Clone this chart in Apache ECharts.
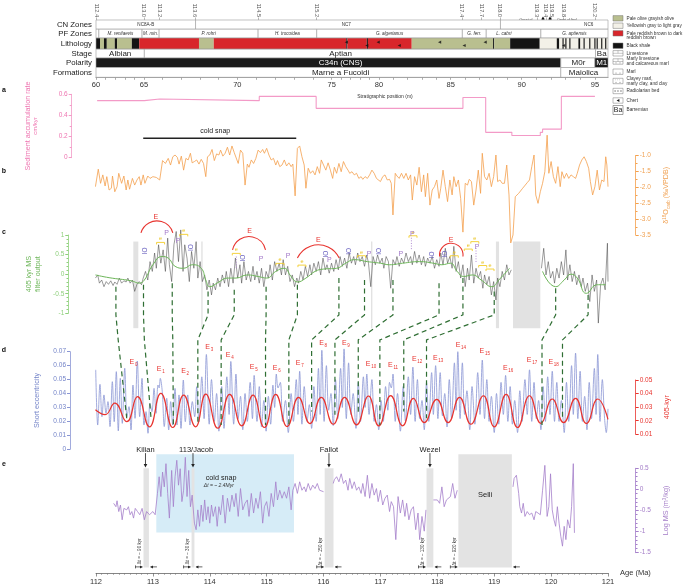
<!DOCTYPE html>
<html><head><meta charset="utf-8">
<script src="https://cdn.jsdelivr.net/npm/echarts@6/dist/echarts.min.js"></script>
<style>html,body{margin:0;padding:0;background:#fff}#c{width:685px;height:586px}</style>
</head><body><div id="c"></div>
<script>
// ---------------- DATA ----------------
// stratigraphic ticks (m) and their tie ages on the shared display axis (Ma)
const stratM = [60,65,70,75,80,85,90,95];
const stratTieAge = [112.0,112.844,114.484,116.143,116.975,118.235,119.483,120.771];
// ages written above the header, at zone boundaries
const boundaryLabels = ['112.4','113.0','113.2','113.6','114.5','115.2','117.4','117.7','118.0','119.3','119.4','119.5','119.8','120.2'];
const boundaryPos = [112.01,112.84,113.12,113.74,114.85,115.87,118.43,118.77,119.10,119.75,119.91,120.01,120.21,120.77];
// header rows: [label, from, to, labelPos]
const cnZones = [['NC8A-B',112.0,113.75],['NC7',113.75,119.11,116.4],['NC6',119.11,121.0,120.66]];
const pfZones = [['',112.0,112.05],['M. renilaevis',112.05,112.81],['M. min.',112.81,113.11],['P. rohri',113.11,114.85],['H. trocoidea',114.85,115.88],['G. algerianus',115.88,118.44],['G. ferr.',118.44,118.86],['L. cabri',118.86,119.82,119.17],['G. aptiensis',119.82,121.0]];
const stages = [['Albian',112.0,112.85],['Aptian',112.85,120.78,116.3],['Ba',120.78,121.0]];
const polarity = [['C34n (CNS)',112.0,120.17,116.3,'n'],['M0r',120.17,120.77,120.48,'r'],['M1',120.77,121.0,120.89,'n']];
const formations = [['Marne a Fucoidi',112.0,120.17,116.3],['Maiolica',120.17,121.0,120.57]];
// lithology segments [from, to, type]
const lithology = [[112.0,112.07,'k'],[112.07,112.14,'o'],[112.14,112.19,'k'],[112.19,112.33,'o'],[112.33,112.37,'k'],[112.37,112.63,'o'],[112.63,112.76,'k'],[112.76,113.81,'r'],[113.81,114.07,'o'],[114.07,116.4,'r'],[116.4,116.42,'k'],[116.42,116.76,'r'],[116.76,116.78,'k'],[116.78,117.55,'r'],[117.55,118.98,'o'],[118.98,119.0,'k'],[119.0,119.28,'o'],[119.28,119.8,'k'],[119.8,121.0,'w'],
 [120.1,120.14,'k'],[120.2,120.22,'k'],[120.25,120.27,'k'],[120.32,120.34,'k'],[120.48,120.51,'k'],[120.57,120.59,'k'],[120.67,120.69,'k'],[120.76,120.78,'k'],[120.8,120.82,'k'],[120.88,120.9,'k'],[120.95,120.97,'k']];
const chertAges = [116.4,116.76,116.96,117.33,118.04,118.47,118.84,120.22];
// a: sediment accumulation rate (cm/kyr), change points
const sedRate = [[112.02,0.54],[112.85,0.556],[113.12,0.54],[114.87,0.58],[115.87,0.467],[118.45,0.57],[118.85,0.24],[119.31,0.21],[119.81,0.24],[119.85,0.27],[120.18,0.58],[120.77,0.58]];
const coldSnapA = [112.83,115.52];
// b: d18O carb
const d18O = [[111.99,-1.98],[112.04,-1.43],[112.08,-1.875],[112.12,-1.61],[112.16,-1.96],[112.19,-1.665],[112.23,-2.085],[112.27,-2.03],[112.29,-1.645],[112.33,-2.14],[112.37,-1.98],[112.40,-1.56],[112.45,-1.875],[112.49,-1.645],[112.53,-2.085],[112.56,-1.77],[112.59,-2.06],[112.64,-1.72],[112.68,-1.93],[112.72,-1.77],[112.76,-1.665],[112.79,-1.93],[112.83,-1.61],[112.86,-1.875],[112.91,-1.645],[112.95,-1.72],[113.00,-1.665],[113.06,-1.69],[113.12,-1.77],[113.17,-1.16],[113.22,-1.25],[113.27,-1.09],[113.31,-1.30],[113.35,-1.04],[113.39,-0.985],[113.43,-1.06],[113.46,-1.27],[113.50,-1.02],[113.54,-1.46],[113.58,-1.09],[113.62,-1.14],[113.66,-0.93],[113.69,-1.23],[113.73,-1.19],[113.77,-1.14],[113.81,-1.27],[113.85,-1.12],[113.89,-1.25],[113.93,-1.665],[113.96,-1.04],[114.00,-0.985],[114.04,-0.81],[114.08,-1.16],[114.12,-0.95],[114.16,-0.985],[114.19,-0.83],[114.23,-1.02],[114.27,-0.93],[114.31,-0.74],[114.35,-0.985],[114.39,-0.70],[114.43,-0.91],[114.46,-0.95],[114.50,-1.25],[114.54,-0.83],[114.58,-0.93],[114.62,-1.93],[114.66,-1.27],[114.69,-1.37],[114.73,-1.14],[114.77,-1.25],[114.81,-1.09],[114.85,-0.83],[114.89,-0.91],[114.93,-0.81],[114.96,-0.93],[115.00,-0.775],[115.04,-0.985],[115.08,-1.14],[115.12,-1.09],[115.16,-1.30],[115.19,-1.16],[115.23,-1.35],[115.27,-1.30],[115.31,-1.14],[115.35,-1.33],[115.39,-1.23],[115.43,-1.35],[115.46,-1.27],[115.50,-2.27],[115.54,-0.775],[115.58,-0.70],[115.62,-1.04],[115.66,-1.30],[115.69,-2.03],[115.73,-1.40],[115.77,-1.56],[115.81,-1.48],[115.85,-1.61],[115.89,-1.35],[115.93,-1.56],[115.96,-1.14],[116.00,-1.30],[116.04,-1.46],[116.08,-1.23],[116.12,-1.46],[116.16,-1.72],[116.19,-1.37],[116.23,-1.56],[116.27,-1.25],[116.31,-1.51],[116.35,-1.19],[116.39,-1.35],[116.43,-1.46],[116.46,-1.56],[116.50,-1.51],[116.54,-1.61],[116.58,-1.56],[116.62,-1.72],[116.66,-1.665],[116.69,-1.75],[116.73,-1.665],[116.77,-1.72],[116.81,-1.61],[116.85,-1.46],[116.89,-1.56],[116.93,-1.72],[116.96,-1.665],[117.00,-1.82],[117.04,-1.665],[117.08,-1.61],[117.12,-1.77],[117.16,-1.75],[117.19,-1.875],[117.22,-2.87],[117.26,-1.56],[117.29,-1.645],[117.33,-1.72],[117.37,-1.56],[117.41,-1.72],[117.45,-1.56],[117.49,-1.77],[117.53,-1.61],[117.56,-2.40],[117.60,-1.665],[117.64,-1.93],[117.68,-1.37],[117.72,-2.14],[117.76,-1.61],[117.79,-2.295],[117.83,-1.56],[117.87,-2.56],[117.91,-2.085],[117.95,-1.98],[117.99,-1.77],[118.03,-2.35],[118.06,-2.03],[118.10,-1.46],[118.14,-1.98],[118.18,-2.45],[118.22,-1.77],[118.26,-2.24],[118.29,-1.665],[118.33,-1.98],[118.37,-1.77],[118.41,-2.35],[118.45,-3.41],[118.49,-1.875],[118.53,-1.93],[118.56,-1.75],[118.60,-1.82],[118.64,-2.56],[118.68,-2.085],[118.72,-1.46],[118.76,-2.19],[118.79,-0.93],[118.83,-1.665],[118.87,-1.77],[118.91,-1.56],[118.95,-1.98],[118.99,-1.665],[119.03,-0.985],[119.06,-1.82],[119.10,-1.77],[119.14,-1.875],[119.18,-1.875],[119.22,-1.30],[119.26,-2.24],[119.29,-3.75],[119.33,-3.5],[119.37,-2.295],[119.43,-2.19],[119.50,-2.03],[119.58,-1.855],[119.62,-1.77],[119.66,-1.35],[119.70,-0.985],[119.73,-2.24],[119.77,-2.505],[119.81,-2.14],[119.85,-1.875],[119.89,-1.51],[119.93,-0.36],[119.96,-1.56],[120.00,-1.19],[120.04,-1.665],[120.08,-1.875],[120.12,-1.35],[120.16,-1.98],[120.19,-1.51],[120.23,-1.72],[120.27,-1.56],[120.31,-1.72],[120.35,-1.61],[120.39,-1.665],[120.43,-1.72],[120.46,-1.56],[120.50,-1.30],[120.54,-1.14],[120.58,-1.04],[120.62,-1.19],[120.66,-1.40],[120.69,-1.82],[120.73,-2.24],[120.77,-1.98],[120.81,-1.46],[120.85,-2.085],[120.89,-1.77],[120.93,-1.82],[120.96,-1.04],[120.98,-1.30],[121.0,-1.98]];
// c: MS raw (black) and 405-kyr filter (green)
const msRaw = [[111.99,-0.10],[112.03,-0.02],[112.06,-0.23],[112.10,-0.15],[112.14,-0.32],[112.18,-0.19],[112.22,-0.26],[112.26,-0.17],[112.30,-0.29],[112.33,-0.20],[112.37,-0.26],[112.41,-0.10],[112.45,-0.23],[112.49,-0.17],[112.53,-0.20],[112.56,-0.10],[112.60,-0.23],[112.64,-0.15],[112.68,-0.44],[112.72,-0.26],[112.76,-0.19],[112.80,-0.27],[112.83,-0.10],[112.87,0.07],[112.91,-0.15],[112.95,0.32],[112.99,0.07],[113.03,0.54],[113.06,0.15],[113.10,0.75],[113.14,0.28],[113.18,0.62],[113.22,0.07],[113.26,0.92],[113.29,0.24],[113.33,-0.19],[113.37,0.75],[113.41,1.09],[113.45,0.32],[113.49,1.13],[113.53,0.07],[113.56,0.75],[113.60,0.41],[113.64,-0.19],[113.68,0.58],[113.72,0.15],[113.76,0.83],[113.79,-0.10],[113.83,0.32],[113.87,-0.19],[113.91,-0.02],[113.95,-0.40],[113.99,-0.15],[114.03,-0.53],[114.06,-0.23],[114.10,-0.40],[114.14,-0.10],[114.18,-0.32],[114.22,-0.02],[114.26,-0.23],[114.29,0.07],[114.33,-0.32],[114.37,0.15],[114.41,-0.23],[114.45,0.41],[114.49,-0.10],[114.53,0.24],[114.56,-0.23],[114.60,0.32],[114.64,-0.15],[114.68,0.07],[114.72,-0.19],[114.76,0.20],[114.79,-0.15],[114.83,0.07],[114.87,-0.23],[114.91,0.15],[114.95,-0.32],[114.99,0.07],[115.03,-0.10],[115.06,0.24],[115.10,-0.15],[115.14,0.32],[115.18,0.07],[115.22,0.28],[115.26,-0.02],[115.29,0.37],[115.33,-0.02],[115.37,0.20],[115.41,-0.19],[115.45,-0.02],[115.49,-0.32],[115.53,-0.10],[115.56,-0.23],[115.60,0.07],[115.64,-0.15],[115.68,0.20],[115.72,-0.06],[115.76,0.24],[115.79,-0.02],[115.83,0.28],[115.87,0.07],[115.91,0.32],[115.95,-0.02],[115.99,0.41],[116.03,0.11],[116.06,0.24],[116.10,0.025],[116.14,0.28],[116.18,0.07],[116.22,0.37],[116.26,0.11],[116.29,0.45],[116.33,0.20],[116.37,0.41],[116.41,0.15],[116.45,0.54],[116.49,0.28],[116.53,0.45],[116.56,0.24],[116.60,0.54],[116.64,0.32],[116.68,0.45],[116.72,0.20],[116.76,0.49],[116.79,0.28],[116.83,-0.32],[116.87,0.45],[116.91,0.24],[116.95,0.49],[116.99,0.28],[117.03,0.41],[117.06,0.15],[117.10,0.45],[117.14,0.32],[117.18,-0.36],[117.22,0.37],[117.26,0.24],[117.29,0.45],[117.33,0.20],[117.37,0.41],[117.41,0.28],[117.45,0.54],[117.49,0.32],[117.53,0.45],[117.56,0.24],[117.60,0.58],[117.64,0.28],[117.68,0.49],[117.72,0.24],[117.76,0.45],[117.79,0.20],[117.83,0.41],[117.87,0.28],[117.91,0.45],[117.95,0.15],[117.99,0.37],[118.03,0.20],[118.06,0.54],[118.10,0.24],[118.14,0.66],[118.18,0.28],[118.22,0.45],[118.26,0.15],[118.29,0.71],[118.33,0.07],[118.37,0.32],[118.41,-0.10],[118.45,0.24],[118.49,-0.32],[118.53,0.15],[118.56,-0.15],[118.60,0.49],[118.64,-0.23],[118.68,0.15],[118.72,-0.10],[118.76,0.07],[118.80,-0.36],[118.83,-0.02],[118.87,-0.27],[118.91,-0.06],[118.95,-0.53],[118.99,-0.19],[119.03,-0.66],[119.06,-0.10],[119.10,-0.32],[119.14,0.07],[119.18,-0.15],[119.22,0.24],[119.26,-0.02],[119.30,0.11],[119.5,null],[119.83,0.15],[119.87,0.66],[119.91,-0.02],[119.95,0.32],[119.99,-0.10],[120.03,0.07],[120.06,-0.23],[120.10,0.15],[120.14,-0.10],[120.18,0.32],[120.22,-0.02],[120.26,0.62],[120.29,-0.15],[120.33,0.24],[120.37,-0.19],[120.41,0.07],[120.45,-0.27],[120.49,-0.02],[120.53,-0.32],[120.56,-0.10],[120.60,-0.44],[120.64,-0.23],[120.68,-0.70],[120.72,-0.02],[120.76,-0.44],[120.80,-0.15],[120.83,-1.25],[120.87,-0.27],[120.91,-0.10],[120.95,-0.40],[120.99,0.79],[121.0,-0.19]];
const msFilter = [[111.99,-0.02],[112.23,-0.09],[112.62,-0.17],[112.76,-0.23],[112.85,-0.15],[113.00,0.24],[113.16,0.45],[113.27,0.41],[113.39,0.20],[113.54,0.15],[113.69,0.24],[113.85,0.15],[113.93,-0.15],[114.00,-0.32],[114.16,-0.20],[114.31,-0.10],[114.46,-0.10],[114.66,-0.02],[114.85,-0.06],[115.00,-0.10],[115.16,0.07],[115.31,0.15],[115.43,-0.06],[115.54,-0.20],[115.69,-0.10],[115.85,0.07],[116.00,0.13],[116.23,0.15],[116.39,0.28],[116.54,0.37],[116.77,0.32],[117.00,0.28],[117.16,0.24],[117.39,0.28],[117.69,0.32],[117.93,0.28],[118.08,0.24],[118.23,0.28],[118.35,0.07],[118.46,-0.06],[118.62,-0.02],[118.77,-0.15],[118.96,-0.32],[119.08,-0.15],[119.27,0.15],[119.5,null],[119.85,0.07],[120.08,-0.32],[120.23,-0.15],[120.35,0.0],[120.46,-0.10],[120.62,-0.49],[120.81,-0.27],[120.96,-0.27]];
// c annotations
const cBars = [[112.656,112.744],[113.85,113.875],[116.834,116.858],[119.03,119.085],[119.33,119.81]];
const eArcs = [[112.79,113.35,1.36,1.055],[114.40,114.98,0.96,0.62],[115.54,116.275,0.75,0.41],[118.04,118.45,0.79,0.45]];
const eArcLabels = [[113.05,1.46],[114.70,1.09],[115.91,0.876],[118.24,0.876]];
const eBrackets = [[113.135,0.90],[113.543,1.106],[114.466,0.62],[115.234,0.365],[115.62,0.32],[116.667,0.56],[117.572,1.07],[118.298,0.56],[118.544,0.73],[118.659,0.92],[118.797,0.31],[118.926,0.22]];
const pMarks = [[113.24,1.047],[113.44,0.85],[114.90,0.383],[115.375,0.45],[116.10,0.365],[116.80,0.52],[117.36,0.51],[117.56,1.02],[118.70,0.70]];
const ioMarks = [[112.867,0.595],[113.68,0.68],[114.584,0.41],[116.043,0.51],[116.444,0.58],[116.98,0.58],[117.913,0.49],[118.143,0.51]];
const dotLines = [[114.466,0.45,0.16],[117.544,0.93,0.62],[118.68,0.67,0.31]];
// correlation lines c -> d: [ageC, startC, ageDtop, ageDbottom, endC]
const links = [[112.35,-0.32,112.39,112.54,-3.68],[112.835,-0.27,112.85,112.97,-3.72],[113.34,-0.23,113.35,113.36,-3.89],[113.97,-0.44,113.79,113.79,-3.85],[114.43,-0.40,114.20,114.20,-3.85],[114.99,-0.32,114.98,114.98,-3.85],[115.54,-0.27,115.39,115.39,-3.85],[116.27,-0.10,115.79,115.79,-3.51],[116.72,-0.15,116.20,116.20,-3.59],[117.22,-0.15,116.61,116.61,-3.59],[118.03,-0.23,116.99,116.99,-3.85],[118.45,-0.10,117.41,117.41,-3.51],[119.00,-0.44,117.81,117.81,-3.68],[120.08,-0.36,119.84,119.84,-3.85],[120.65,-0.53,120.20,120.20,-3.68]];
// d: short eccentricity and 405-kyr
const eccShort = [[111.995,0.057],[112.03,0.0174],[112.07,0.0466],[112.105,0.0234],[112.14,0.039],[112.176,0.0258],[112.21,0.0342],[112.246,0.0163],[112.287,0.0485],[112.32,0.0198],[112.357,0.0557],[112.392,0.0132],[112.427,0.0509],[112.462,0.0186],[112.505,0.0581],[112.545,0.0234],[112.58,0.0306],[112.615,0.0139],[112.65,0.0461],[112.686,0.0222],[112.726,0.0633],[112.768,0.0234],[112.809,0.0509],[112.844,0.0174],[112.879,0.027],[112.914,0.0115],[112.949,0.033],[112.984,0.027],[113.02,0.0437],[113.055,0.0258],[113.09,0.0461],[113.11,0.044],[113.13,0.0509],[113.165,0.0413],[113.20,0.0163],[113.243,0.0366],[113.278,0.0139],[113.313,0.0342],[113.348,0.0174],[113.389,0.0437],[113.424,0.0174],[113.459,0.039],[113.494,0.015],[113.535,0.0497],[113.57,0.0198],[113.612,0.039],[113.652,0.0174],[113.693,0.0342],[113.735,0.0234],[113.77,0.0449],[113.81,0.0198],
 [113.86,0.052],[113.90,0.022],[113.94,0.068],[113.99,0.018],[114.03,0.050],[114.08,0.020],[114.12,0.040],[114.16,0.013],[114.21,0.045],[114.25,0.015],[114.30,0.052],[114.34,0.025],[114.37,0.063],[114.42,0.018],[114.46,0.054],[114.50,0.022],[114.54,0.038],[114.58,0.014],[114.62,0.040],[114.66,0.020],[114.71,0.048],[114.75,0.022],[114.78,0.053],[114.83,0.020],[114.87,0.045],[114.91,0.016],[114.95,0.035],[114.99,0.013],[115.03,0.038],[115.07,0.018],[115.11,0.046],[115.14,0.030],[115.17,0.054],[115.20,0.044],[115.24,0.048],[115.28,0.020],[115.33,0.035],[115.38,0.012],[115.43,0.040],[115.47,0.020],[115.52,0.050],[115.55,0.025],[115.58,0.056],[115.62,0.018],[115.66,0.045],[115.71,0.020],[115.75,0.032],[115.79,0.015],[115.83,0.045],[115.87,0.020],[115.91,0.058],[115.94,0.025],[115.97,0.071],[116.01,0.020],[116.05,0.060],[116.09,0.028],[116.13,0.040],[116.17,0.017],[116.21,0.050],[116.25,0.022],[116.30,0.058],[116.33,0.030],[116.36,0.072],[116.40,0.022],[116.44,0.062],[116.48,0.025],[116.52,0.040],[116.57,0.015],[116.61,0.048],[116.65,0.020],[116.70,0.052],[116.73,0.030],[116.76,0.054],[116.80,0.025],[116.85,0.050],[116.89,0.020],[116.93,0.032],[116.97,0.014],[117.01,0.035],[117.05,0.020],[117.09,0.045],[117.13,0.028],[117.16,0.048],[117.19,0.044],[117.22,0.054],[117.26,0.020],[117.30,0.040],[117.35,0.013],[117.40,0.045],[117.44,0.020],[117.49,0.052],[117.53,0.025],[117.57,0.059],[117.61,0.020],[117.65,0.050],[117.69,0.022],[117.73,0.035],[117.77,0.014],[117.81,0.048],[117.85,0.020],[117.90,0.055],[117.93,0.025],[117.97,0.060],[118.01,0.022],[118.05,0.055],[118.09,0.024],[118.13,0.040],[118.17,0.016],[118.21,0.050],[118.25,0.022],[118.30,0.062],[118.33,0.028],[118.36,0.070],[118.40,0.022],[118.44,0.062],[118.48,0.025],[118.52,0.042],[118.57,0.014],[118.61,0.045],[118.66,0.018],[118.71,0.055],[118.75,0.025],[118.79,0.064],[118.83,0.022],[118.87,0.050],[118.91,0.020],[118.95,0.038],[119.00,0.012],[119.04,0.040],[119.08,0.018],[119.12,0.048],[119.16,0.025],[119.20,0.053],[119.24,0.020],[119.28,0.045],[119.32,0.018],[119.36,0.035],[119.41,0.012],[119.45,0.042],[119.49,0.020],[119.54,0.050],[119.58,0.025],[119.62,0.057],[119.66,0.020],[119.70,0.048],[119.74,0.022],[119.78,0.035],[119.82,0.014],[119.86,0.045],[119.90,0.020],[119.94,0.052],[119.98,0.025],[120.02,0.056],[120.06,0.020],[120.10,0.048],[120.14,0.020],[120.18,0.035],[120.23,0.012],[120.27,0.048],[120.31,0.020],[120.36,0.060],[120.39,0.025],[120.43,0.069],[120.47,0.022],[120.51,0.056],[120.55,0.020],[120.59,0.038],[120.63,0.014],[120.67,0.048],[120.71,0.022],[120.76,0.058],[120.79,0.025],[120.82,0.068],[120.86,0.020],[120.90,0.050],[120.94,0.022],[120.97,0.012],[121.0,0.029]];
const ecc405 = [[111.99,0.0281],[112.16,0.0245],[112.33,0.0329],[112.54,0.0193],[112.73,0.0377],[112.94,0.0155],[113.14,0.0401],[113.35,0.0150],[113.54,0.0389],[113.75,0.0155],[113.93,0.0396],[114.14,0.0145],[114.35,0.0394],[114.56,0.0162],[114.76,0.0389],[114.96,0.0150],[115.16,0.0394],[115.36,0.0157],[115.56,0.0372],[115.76,0.0179],[115.96,0.0372],[116.17,0.0174],[116.37,0.0372],[116.58,0.0169],[116.79,0.0382],[116.97,0.0162],[117.18,0.0385],[117.39,0.0162],[117.58,0.0365],[117.77,0.0186],[117.99,0.0358],[118.19,0.0186],[118.39,0.0372],[118.59,0.0174],[118.81,0.0384],[119.00,0.0155],[119.21,0.0394],[119.41,0.0150],[119.62,0.0384],[119.82,0.0181],[120.02,0.0360],[120.22,0.0186],[120.43,0.0365],[120.62,0.0179],[120.82,0.0360],[121.0,0.0210]];
const eLabelsD = [[0,112.656,0.0624],[1,113.137,0.0576],[2,113.564,0.0563],[3,113.99,0.0735],[4,114.35,0.0676],[5,114.77,0.0592],[6,115.175,0.058],[7,115.58,0.0616],[8,115.99,0.076],[9,116.39,0.076],[10,116.81,0.061],[11,117.20,0.0604],[12,117.62,0.0645],[13,117.99,0.0657],[14,118.39,0.0748],[15,118.81,0.0705],[16,119.22,0.0585],[17,119.64,0.064],[18,120.02,0.0628]];
// e: Log MS
const logMS = [[112.31,-0.33],[112.35,-0.41],[112.37,-0.27],[112.40,-0.525],[112.43,-0.37],[112.46,-0.72],[112.49,-0.45],[112.54,-0.485],[112.57,-0.41],[112.60,-0.60],[112.63,-0.525],[112.66,-0.68],[112.69,-0.45],[112.73,-0.525],[112.77,-0.60],[112.81,-0.45],[112.85,-0.72],[112.89,-0.525],[112.94,-0.60],[112.97,-0.56],[113.00,-0.525],[113.04,-0.60],[113.08,-0.095],[113.11,0.30],[113.14,-0.17],[113.17,0.41],[113.20,0.06],[113.23,0.61],[113.26,-0.095],[113.29,-0.68],[113.33,0.45],[113.36,-0.41],[113.39,0.30],[113.42,0.69],[113.45,0.10],[113.48,0.49],[113.51,-0.29],[113.54,-0.02],[113.57,0.76],[113.60,-0.17],[113.63,0.45],[113.66,-0.41],[113.69,-0.135],[113.73,-0.80],[113.76,-0.955],[113.79,-0.485],[113.82,-0.875],[113.85,-0.37],[113.88,-0.76],[113.91,-0.25],[113.94,-0.72],[113.97,-0.41],[114.00,-0.80],[114.03,-0.37],[114.06,-0.64],[114.10,-0.41],[114.13,-0.875],[114.16,-0.41],[114.19,-0.60],[114.23,-0.135],[114.27,-0.80],[114.31,-0.21],[114.35,-0.525],[114.39,-0.135],[114.43,-0.41],[114.46,-0.095],[114.50,-0.64],[114.54,0.02],[114.58,-0.485],[114.62,-0.33],[114.66,-0.25],[114.69,-0.64],[114.73,-0.095],[114.77,-0.56],[114.81,-0.21],[114.85,-0.45],[114.89,-0.055],[114.93,-0.80],[114.96,-0.41],[115.00,-0.29],[115.04,-0.64],[115.08,-0.095],[115.12,-0.41],[115.16,0.18],[115.19,-0.25],[115.23,-0.02],[115.27,-0.21],[115.31,-0.055],[115.35,-0.21],[115.39,0.06],[115.43,-0.485],[115.46,-0.02],[115.50,0.14],[115.54,-0.095],[115.58,0.18],[115.62,-0.02],[115.66,0.06],[115.69,-0.055],[115.73,0.14],[115.77,-0.02],[115.81,0.10],[115.85,0.02],[115.89,0.14],[115.93,-0.02],[115.96,0.02],[116.00,-0.055],[116.08,null],[116.17,0.14],[116.19,0.23],[116.23,0.30],[116.27,0.18],[116.31,0.37],[116.35,0.14],[116.39,0.22],[116.43,-0.02],[116.46,0.26],[116.50,0.02],[116.54,0.18],[116.58,-0.02],[116.62,0.06],[116.66,-0.095],[116.69,0.14],[116.73,-0.17],[116.77,0.335],[116.81,-0.21],[116.85,0.14],[116.89,-0.135],[116.93,0.02],[116.96,-0.29],[117.00,-0.02],[117.04,-0.37],[117.08,-0.21],[117.12,-0.135],[117.16,-0.525],[117.19,-0.29],[117.23,-0.41],[117.27,-1.19],[117.31,-0.17],[117.35,-0.56],[117.39,-0.25],[117.43,-0.64],[117.46,-0.33],[117.50,-0.72],[117.54,-0.485],[117.58,-0.41],[117.62,-0.955],[117.66,-0.56],[117.69,-1.19],[117.73,-0.64],[117.77,-0.99],[117.80,-0.485],[117.86,null],[117.93,-0.25],[117.96,-0.29],[118.00,-0.25],[118.04,-0.33],[118.08,0.06],[118.12,-0.41],[118.16,-0.25],[118.19,-0.29],[118.23,-0.17],[118.27,0.14],[118.31,-0.21],[118.35,-0.02],[118.8,null],[119.33,0.06],[119.35,0.26],[119.39,0.335],[119.43,-0.095],[119.45,-0.41],[119.48,-0.56],[119.51,-0.33],[119.54,-0.64],[119.58,-0.525],[119.62,-0.60],[119.66,-0.56],[119.70,-0.72],[119.73,-0.525],[119.77,-0.56],[119.81,-0.60],[119.85,-0.02],[119.89,0.57],[119.93,-0.64],[119.96,-0.41],[119.99,0.37],[120.02,-0.485],[120.05,-0.72],[120.08,-0.875],[120.11,-0.41],[120.14,-0.80],[120.17,-1.11],[120.20,-1.345],[120.23,-0.875],[120.26,-1.19],[120.29,-0.72],[120.33,-0.915],[120.36,-0.41],[120.39,0.61],[120.41,-1.03]];
const eventBars = [['Kilian',112.835,112.93,'Δt = ~ 90 kyr'],['113/Jacob',113.68,113.73,'Δt = ~ 30 kyr'],['Fallot',116.02,116.175,'Δt = ~ 150 kyr'],['Wezel',117.81,117.93,'Δt = ~ 130 kyr'],['Selli',118.37,119.31,'Δt = ~ 920 kyr']];
const eventArrows = [['Kilian',112.87,112.87],['113/Jacob',113.705,113.76],['Fallot',116.095,116.095],['Wezel',117.87,117.87]];
const coldSnapE = [113.06,115.48];

// ---------------- HELPERS ----------------
const FONT = "'Liberation Sans', Arial, Helvetica, sans-serif";
const COL = {pink:'#f39ac7', pinkTxt:'#ee74b0', orange:'#f4a04c', orangeTxt:'#f0a254', green:'#8fd07c', greenLine:'#6db659', blue:'#8a96d4', blueTxt:'#7383c8', red:'#e8342f', purple:'#a57fca', purpleTxt:'#a47dc8', gray:'#e3e3e3'};
function stratToAge(m){
  for(let i=0;i<stratM.length-1;i++){ if(m<=stratM[i+1]){ const t=(m-stratM[i])/(stratM[i+1]-stratM[i]); return stratTieAge[i]+t*(stratTieAge[i+1]-stratTieAge[i]); } }
  const n=stratM.length-1; return stratTieAge[n]+(m-stratM[n])*(stratTieAge[n]-stratTieAge[n-1])/(stratM[n]-stratM[n-1]);
}
const stratMinor=[]; for(let m=60;m<=96;m++) stratMinor.push(stratToAge(m));
function nearestIdx(arr,v){ let b=0; for(let i=1;i<arr.length;i++) if(Math.abs(arr[i]-v)<Math.abs(arr[b]-v)) b=i; return b; }
function txt(text,x,y,o){ o=o||{}; return {type:'text', x:x, y:y, rotation:o.rot||0, silent:true, z2:10, style:{text:text, x:0, y:0, fill:o.color||'#222', font:(o.italic?'italic ':'')+(o.bold?'bold ':'')+(o.size||7)+'px '+FONT, textAlign:o.align||'center', textVerticalAlign:o.va||'middle', align:o.align||'center', verticalAlign:o.va||'middle'}}; }

// header cells
const ROWS = {cn:[0,9.7], pf:[9.7,19], lith:[19,30.7], stage:[30.7,40], pol:[40,50], form:[50,60.3]};
const LITHCOL = {k:'#141414', o:'#b9bf8f', r:'#d8262b', w:'#f3f1e8'};
const cells = [];
cnZones.forEach(z=>cells.push({v:[z[1],z[2]].concat(ROWS.cn), fill:'#fff', stroke:'#9a9a9a', text:z[0], lx:z[3], size:4.6, color:'#333'}));
pfZones.forEach(z=>cells.push({v:[z[1],z[2]].concat(ROWS.pf), fill:'#fff', stroke:'#9a9a9a', text:z[0], lx:z[3], size:4.6, italic:true, color:'#333'}));
lithology.forEach(z=>cells.push({v:[z[0],z[1]].concat(ROWS.lith), fill:LITHCOL[z[2]], stroke:'none'}));
cells.push({v:[112,121].concat(ROWS.lith), fill:'none', stroke:'#9a9a9a'});
stages.forEach(z=>cells.push({v:[z[1],z[2]].concat(ROWS.stage), fill:'#fff', stroke:'#9a9a9a', text:z[0], lx:z[3], size:8, color:'#222'}));
polarity.forEach(z=>cells.push({v:[z[1],z[2]].concat(ROWS.pol), fill:z[4]==='n'?'#1a1a1a':'#fff', stroke:'#9a9a9a', text:z[0], lx:z[3], size:8, color:z[4]==='n'?'#fff':'#222'}));
formations.forEach(z=>cells.push({v:[z[1],z[2]].concat(ROWS.form), fill:'#fff', stroke:'#9a9a9a', text:z[0], lx:z[3], size:8, color:'#222'}));
const rowNames = ['CN Zones','PF Zones','Lithology','Stage','Polarity','Formations'];
const rowCenters = Object.values(ROWS).map(r=>(r[0]+r[1])/2);

function renderHeader(params, api){
  const c = cells[params.dataIndex];
  const p0 = api.coord([c.v[0], c.v[2]]), p1 = api.coord([c.v[1], c.v[3]]);
  const ch = [{type:'rect', shape:{x:p0[0], y:p0[1], width:p1[0]-p0[0], height:p1[1]-p0[1]}, style:{fill:c.fill, stroke:c.stroke, lineWidth:0.6}}];
  if(c.text){ const lx = c.lx!=null ? api.coord([c.lx,0])[0] : (p0[0]+p1[0])/2; ch.push(txt(c.text, lx, (p0[1]+p1[1])/2+0.3, {size:c.size, color:c.color, italic:c.italic})); }
  return {type:'group', children:ch};
}
function renderRects(list, yTop, yBot, fill, topFn){
  return function(params, api){ const b=list[params.dataIndex]; const t = topFn?topFn(b):yTop;
    const p0=api.coord([b[b.length>3?1:0], t]), p1=api.coord([b[b.length>3?2:1], yBot]);
    return {type:'rect', shape:{x:p0[0], y:p0[1], width:Math.max(p1[0]-p0[0],1.2), height:p1[1]-p0[1]}, style:{fill:fill}}; };
}
function renderArc(params, api){
  const a = eArcs[params.dataIndex];
  const p0=api.coord([a[0],a[3]]), p1=api.coord([a[1],a[3]]), pt=api.coord([(a[0]+a[1])/2,a[2]]);
  const w=(p1[0]-p0[0])/2, s=p0[1]-pt[1]; const r=(w*w+s*s)/(2*s);
  const ang = s<=r ? Math.asin(Math.min(1,w/r)) : Math.PI-Math.asin(Math.min(1,w/r));
  return {type:'arc', shape:{cx:pt[0], cy:pt[1]+r, r:r, startAngle:1.5*Math.PI-ang, endAngle:1.5*Math.PI+ang, clockwise:true}, style:{stroke:COL.red, fill:null, lineWidth:1.1}};
}
function hx(gi){ return {type:'value',gridIndex:gi,min:112,max:121,show:false,axisLine:{onZero:false}}; }

const option = {
  animation:false,
  backgroundColor:'#fff',
  textStyle:{fontFamily:FONT},
  grid:[
    {left:96,right:77,top:17,height:60.3},
    {left:96,right:77,top:94.3,height:63.4},
    {left:96,right:77,top:155.5,height:79.5},
    {left:96,right:77,top:235,height:78.3},
    {left:96,right:77,top:351.7,height:97.6},
    {left:96,right:77,top:380,height:54.3},
    {left:96,right:77,top:468.3,height:85.4}
  ],
  xAxis:[
    {type:'value',gridIndex:0,min:112,max:121,position:'bottom',
      axisLine:{onZero:false,lineStyle:{color:'#777',width:0.8}},
      axisTick:{customValues:stratMinor,length:2.5,lineStyle:{color:'#777',width:0.6}},
      axisLabel:{customValues:stratTieAge,fontSize:7.5,color:'#333',margin:4,formatter:v=>String(stratM[nearestIdx(stratTieAge,v)])},
      splitLine:{show:false}},
    {type:'value',gridIndex:0,min:112,max:121,position:'top',
      axisLine:{show:false,onZero:false},
      axisTick:{customValues:boundaryPos,length:2.5,lineStyle:{color:'#888',width:0.6}},
      axisLabel:{customValues:boundaryPos,rotate:90,fontSize:5.6,color:'#555',margin:3,formatter:v=>boundaryLabels[nearestIdx(boundaryPos,v)]},
      splitLine:{show:false}},
    hx(1),hx(2),hx(3),hx(4),hx(5),
    {type:'value',gridIndex:6,min:112,max:121,position:'bottom',offset:20.3,interval:1,
      axisLine:{onZero:false,lineStyle:{color:'#666',width:0.8}},
      axisTick:{length:3.5,lineStyle:{color:'#666',width:0.7}},
      minorTick:{show:true,splitNumber:10,length:2,lineStyle:{color:'#777',width:0.5}},
      axisLabel:{fontSize:7.5,color:'#333',margin:5},
      splitLine:{show:false},
      name:'Age (Ma)',nameLocation:'end',nameGap:12,nameTextStyle:{fontSize:7.5,color:'#333'}}
  ],
  yAxis:[
    {type:'value',gridIndex:0,min:0,max:60.3,inverse:true,axisLine:{show:false,onZero:false},axisTick:{show:false},splitLine:{show:false},
      axisLabel:{customValues:rowCenters,fontSize:7.8,color:'#222',margin:4,formatter:v=>rowNames[nearestIdx(rowCenters,v)]}},
    {type:'value',gridIndex:1,min:0,max:0.6,interval:0.2,position:'left',offset:24.3,
      axisLine:{show:true,onZero:false,lineStyle:{color:COL.pink,width:0.8}},axisTick:{show:true,length:3,lineStyle:{color:COL.pink}},
      minorTick:{show:true,splitNumber:2,length:2,lineStyle:{color:COL.pink}},splitLine:{show:false},
      axisLabel:{fontSize:6.5,color:COL.pinkTxt,margin:4,formatter:v=>v===0?'0':v.toFixed(1)},
      name:'{a|Sediment accumulation rate}\n{b|cm/kyr}',nameLocation:'middle',nameGap:32,nameRotate:90,
      nameTextStyle:{color:COL.pinkTxt,rich:{a:{fontSize:7.2,color:COL.pinkTxt,lineHeight:8},b:{fontSize:6,color:COL.pinkTxt,lineHeight:8}}}},
    {type:'value',gridIndex:2,min:-3.5,max:-1.0,interval:0.5,position:'right',offset:27.7,
      axisLine:{show:true,onZero:false,lineStyle:{color:COL.orange,width:0.8}},axisTick:{show:true,length:3,lineStyle:{color:COL.orange}},
      minorTick:{show:true,splitNumber:2,length:1.8,lineStyle:{color:COL.orange}},splitLine:{show:false},
      axisLabel:{fontSize:6.5,color:COL.orangeTxt,margin:4,formatter:v=>v.toFixed(1)},
      name:'δ{sup|18}O{sub|carb} (‰VPDB)',nameLocation:'middle',nameGap:25,nameRotate:90,
      nameTextStyle:{fontSize:7.2,color:COL.orangeTxt,rich:{sup:{fontSize:4.5,color:COL.orangeTxt,verticalAlign:'top',lineHeight:9},sub:{fontSize:4.5,color:COL.orangeTxt,verticalAlign:'bottom',lineHeight:9}}}},
    {type:'value',gridIndex:3,min:-1,max:1,interval:0.5,position:'left',offset:27.7,
      axisLine:{show:true,onZero:false,lineStyle:{color:COL.green,width:0.8}},axisTick:{show:true,length:3,lineStyle:{color:COL.green}},
      minorTick:{show:true,splitNumber:5,length:1.8,lineStyle:{color:COL.green}},splitLine:{show:false},
      axisLabel:{fontSize:6.5,color:COL.green,margin:4,formatter:v=>String(+v.toFixed(1))},
      name:'405 kyr MS\nfilter output',nameLocation:'middle',nameGap:26,nameRotate:90,
      nameTextStyle:{fontSize:7.2,color:COL.greenLine,lineHeight:8.5}},
    {type:'value',gridIndex:4,min:0,max:0.07,interval:0.01,position:'left',offset:26,
      axisLine:{show:true,onZero:false,lineStyle:{color:COL.blue,width:0.8}},axisTick:{show:true,length:3,lineStyle:{color:COL.blue}},splitLine:{show:false},
      axisLabel:{fontSize:6.5,color:COL.blueTxt,margin:4,formatter:v=>v===0?'0':v.toFixed(2)},
      name:'Short eccentricity',nameLocation:'middle',nameGap:29,nameRotate:90,nameTextStyle:{fontSize:7.2,color:COL.blueTxt}},
    {type:'value',gridIndex:5,min:0.01,max:0.05,interval:0.01,position:'right',offset:27.7,
      axisLine:{show:true,onZero:false,lineStyle:{color:COL.red,width:0.8}},axisTick:{show:true,length:3,lineStyle:{color:COL.red}},splitLine:{show:false},
      axisLabel:{fontSize:6.5,color:COL.red,margin:4,formatter:v=>v.toFixed(2)},
      name:'405-kyr',nameLocation:'middle',nameGap:23,nameRotate:90,nameTextStyle:{fontSize:7.2,color:COL.red}},
    {type:'value',gridIndex:6,min:-1.5,max:0.5,interval:0.5,position:'right',offset:27.7,
      axisLine:{show:true,onZero:false,lineStyle:{color:COL.purple,width:0.8}},axisTick:{show:true,length:3,lineStyle:{color:COL.purple}},
      minorTick:{show:true,splitNumber:5,length:1.8,lineStyle:{color:COL.purple}},splitLine:{show:false},
      axisLabel:{fontSize:6.5,color:COL.purpleTxt,margin:4,formatter:v=>String(+v.toFixed(1))},
      name:'Log MS (m{sup|3}/kg)',nameLocation:'middle',nameGap:25,nameRotate:90,
      nameTextStyle:{fontSize:7.2,color:COL.purpleTxt,rich:{sup:{fontSize:4.5,color:COL.purpleTxt,verticalAlign:'top',lineHeight:9}}}}
  ],
  series:[
    // header
    {type:'custom',xAxisIndex:0,yAxisIndex:0,clip:false,silent:true,renderItem:renderHeader,data:cells.map(c=>c.v),encode:{x:[0,1],y:[2,3]}},
    {type:'scatter',xAxisIndex:0,yAxisIndex:0,silent:true,symbol:'triangle',symbolRotate:90,symbolSize:[3.2,3.2],itemStyle:{color:'#111'},data:chertAges.map((a,i)=>[a,(ROWS.lith[0]+ROWS.lith[1])/2+(i%2?2:-1.5)]),z:5},
    // a
    {type:'line',xAxisIndex:2,yAxisIndex:1,step:'end',showSymbol:false,lineStyle:{color:COL.pink,width:1.1},data:sedRate,z:3},
    {type:'line',xAxisIndex:2,yAxisIndex:1,showSymbol:false,lineStyle:{color:'#222',width:1.3},data:coldSnapA.map(a=>[a,0.184]),
      markPoint:{silent:true,symbol:'rect',symbolSize:0.01,label:{show:true,formatter:'cold snap',fontSize:7,color:'#222'},data:[{coord:[(coldSnapA[0]+coldSnapA[1])/2-0.08,0.25]}]}},
    // b
    {type:'line',xAxisIndex:3,yAxisIndex:2,clip:false,showSymbol:false,lineStyle:{color:COL.orange,width:0.8},data:d18O,z:2},
    // c
    {type:'custom',xAxisIndex:4,yAxisIndex:3,clip:false,silent:true,renderItem:renderRects(cBars,0.833,-1.38,'#e2e2e2'),data:cBars,encode:{x:[0,1]},z:0},
    {type:'line',xAxisIndex:4,yAxisIndex:3,clip:false,showSymbol:false,connectNulls:false,lineStyle:{color:'#3c3c3c',width:0.6,opacity:0.85},data:msRaw,z:2},
    {type:'line',xAxisIndex:4,yAxisIndex:3,clip:false,showSymbol:false,smooth:0.5,connectNulls:false,lineStyle:{color:COL.greenLine,width:1},data:msFilter,z:3},
    {type:'custom',xAxisIndex:4,yAxisIndex:3,clip:false,silent:true,renderItem:renderArc,data:eArcs.map(a=>[a[0],a[2]]),z:4},
    {type:'custom',xAxisIndex:4,yAxisIndex:3,clip:false,silent:true,data:eArcLabels,z:4,
      renderItem:(p,api)=>{const q=api.coord([api.value(0),api.value(1)]); return txt('E',q[0],q[1],{size:7,color:COL.red});}},
    {type:'custom',xAxisIndex:4,yAxisIndex:3,clip:false,silent:true,data:eBrackets,z:4,
      renderItem:(p,api)=>{const q=api.coord([api.value(0),api.value(1)]); return {type:'group',children:[
        {type:'polyline',shape:{points:[[q[0]-4,q[1]+5.5],[q[0]-4,q[1]+3.5],[q[0]+4,q[1]+3.5],[q[0]+4,q[1]+5.5]]},style:{stroke:'#f3cd2a',fill:null,lineWidth:0.9}},
        txt('e',q[0],q[1],{size:5.5,color:'#e9c21c'})]};}},
    {type:'custom',xAxisIndex:4,yAxisIndex:3,clip:false,silent:true,data:pMarks,z:4,
      renderItem:(p,api)=>{const q=api.coord([api.value(0),api.value(1)]); return txt('P',q[0],q[1],{size:7,color:'#a278c9'});}},
    {type:'custom',xAxisIndex:4,yAxisIndex:3,clip:false,silent:true,data:ioMarks,z:4,
      renderItem:(p,api)=>{const q=api.coord([api.value(0),api.value(1)]); return txt('IO',q[0],q[1],{size:6.5,color:'#6b63c0',rot:Math.PI/2});}},
    {type:'custom',xAxisIndex:4,yAxisIndex:3,clip:false,silent:true,data:dotLines,z:4,
      renderItem:(p,api)=>{const a=api.coord([api.value(0),api.value(1)]),b=api.coord([api.value(0),api.value(2)]); return {type:'line',shape:{x1:a[0],y1:a[1],x2:b[0],y2:b[1]},style:{stroke:'#b08ad0',lineWidth:1,lineDash:[1,1.6]}};}},
    // correlation links c -> d
    {type:'custom',xAxisIndex:4,yAxisIndex:3,clip:false,silent:true,data:links,z:6,
      renderItem:(p,api)=>{const l=links[p.dataIndex]; const pts=[api.coord([l[0],l[1]]),api.coord([l[0],-1.04]),api.coord([l[2],-1.68]),api.coord([l[3],l[4]])];
        return {type:'polyline',shape:{points:pts},style:{stroke:'#2f6e33',fill:null,lineWidth:1.2,lineDash:[5,3.5]}};}},
    // d
    {type:'line',xAxisIndex:5,yAxisIndex:4,clip:false,showSymbol:false,smooth:0.35,lineStyle:{color:COL.blue,width:0.8},data:eccShort,z:2},
    {type:'line',xAxisIndex:6,yAxisIndex:5,clip:false,showSymbol:false,smooth:0.5,lineStyle:{color:COL.red,width:1.2},data:ecc405,z:3},
    {type:'custom',xAxisIndex:5,yAxisIndex:4,clip:false,silent:true,data:eLabelsD.map(e=>[e[1],e[2]]),z:5,
      renderItem:(p,api)=>{const e=eLabelsD[p.dataIndex]; const q=api.coord([e[1],e[2]]); return {type:'group',children:[txt('E',q[0]-1.5,q[1],{size:7,color:COL.red}),txt(String(e[0]),q[0]+1.6,q[1]+2.6,{size:4.5,color:COL.red,align:'left'})]};}},
    // e
    {type:'custom',xAxisIndex:7,yAxisIndex:6,clip:false,silent:true,data:[coldSnapE],z:0,
      renderItem:(p,api)=>{const a=api.coord([coldSnapE[0],0.83]),b=api.coord([coldSnapE[1],-1.02]); return {type:'rect',shape:{x:a[0],y:a[1],width:b[0]-a[0],height:b[1]-a[1]},style:{fill:'#d6ecf7'}};}},
    {type:'custom',xAxisIndex:7,yAxisIndex:6,clip:false,silent:true,data:eventBars.map(b=>[b[1],b[2]]),z:1,
      renderItem:renderRects(eventBars,0.5,-1.85,'#e3e3e3',b=>b[0]==='Selli'?0.83:0.5)},
    {type:'line',xAxisIndex:7,yAxisIndex:6,clip:false,showSymbol:false,connectNulls:false,lineStyle:{color:COL.purple,width:0.8},data:logMS,z:3},
    {type:'custom',xAxisIndex:7,yAxisIndex:6,clip:false,silent:true,data:eventArrows.map(e=>[e[1],0]),z:5,
      renderItem:(p,api)=>{const ev=eventArrows[p.dataIndex]; const a=api.coord([ev[1],0.86]), b=api.coord([ev[1],0.52]), t=api.coord([ev[2],0.93]);
        return {type:'group',children:[txt(ev[0],t[0],t[1],{size:7.5,color:'#222'}),
          {type:'line',shape:{x1:a[0],y1:a[1],x2:b[0],y2:b[1]-2.5},style:{stroke:'#222',lineWidth:0.8}},
          {type:'polygon',shape:{points:[[b[0]-1.8,b[1]-3.5],[b[0]+1.8,b[1]-3.5],[b[0],b[1]]]},style:{fill:'#222'}}]};}},
    {type:'custom',xAxisIndex:7,yAxisIndex:6,clip:false,silent:true,data:eventBars.map(b=>[b[1],b[2]]),z:5,
      renderItem:(p,api)=>{const b=eventBars[p.dataIndex]; const l=api.coord([b[1],-1.836]), r=api.coord([b[2],-1.836]); const lab=api.coord([b[1],-1.47]);
        const ch=[txt(b[3],l[0]-3.6,lab[1],{size:4.6,color:'#333',rot:Math.PI/2}),
          {type:'line',shape:{x1:l[0]-8,y1:l[1],x2:l[0]-1,y2:l[1]},style:{stroke:'#222',lineWidth:0.7}},
          {type:'line',shape:{x1:l[0]-8,y1:l[1]-1.5,x2:l[0]-8,y2:l[1]+1.5},style:{stroke:'#222',lineWidth:0.7}},
          {type:'polygon',shape:{points:[[l[0]-1,l[1]],[l[0]-3.5,l[1]-1.5],[l[0]-3.5,l[1]+1.5]]},style:{fill:'#222'}},
          {type:'line',shape:{x1:r[0]+1.5,y1:r[1],x2:r[0]+8,y2:r[1]},style:{stroke:'#222',lineWidth:0.7}},
          {type:'polygon',shape:{points:[[r[0]+1.5,r[1]],[r[0]+4,r[1]-1.5],[r[0]+4,r[1]+1.5]]},style:{fill:'#222'}}];
        if(b[0]==='Selli'){const s=api.coord([(b[1]+b[2])/2,-0.13]); ch.push(txt('Selli',s[0],s[1],{size:7.5,color:'#222'}));}
        return {type:'group',children:ch};}},
    {type:'custom',xAxisIndex:7,yAxisIndex:6,clip:false,silent:true,data:[coldSnapE],z:5,
      renderItem:(p,api)=>{const a=api.coord([114.2,0.27]), b=api.coord([114.16,0.09]); return {type:'group',children:[txt('cold snap',a[0],a[1],{size:7.2,color:'#222'}),txt('Δt = ~ 2.4Myr',b[0],b[1],{size:5,color:'#333',italic:true})]};}}
  ],
  graphic:[]
};

// panel letters, axis title, legend, nannofossil notes
const G = option.graphic;
[['a',90],['b',171],['c',232],['d',350],['e',464]].forEach(l=>G.push(txt(l[0],4,l[1],{size:7,bold:true,color:'#111'})));
G.push(txt('Stratigraphic position (m)',385,96.5,{size:5,color:'#333'}));
G.push(txt('Onset of',526,19.6,{size:3.4,color:'#444'}));G.push(txt('nannoconid crisis',526,23.2,{size:3.4,color:'#444'}));
G.push(txt('Onset of final',567,19.6,{size:3.4,color:'#444'}));G.push(txt('nannoconid decline',567,23.2,{size:3.4,color:'#444'}));
[543,550].forEach(x=>{G.push({type:'line',shape:{x1:x,y1:25,x2:x,y2:19},style:{stroke:'#111',lineWidth:0.9}});G.push({type:'polygon',shape:{points:[[x-1.8,19.5],[x+1.8,19.5],[x,16.5]]},style:{fill:'#111'}});});
const legendItems = [
  [18.3,'Pale olive grayish olive','olive'],[25.7,'Yellowish gray to light gray','light'],[33.3,'Pale reddish brown to dark\nreddish brown','red'],
  [45.7,'Black shale','black'],[53.3,'Limestone','lime'],[61.5,'Marly limestone\nand calcareous marl','marlylime'],[71.7,'Marl','marl'],
  [81,'Clayey marl,\nmarly clay, and clay','clay'],[91,'Radiolarian bed','radio'],[100.5,'Chert','chert'],[110,'Barremian','ba']];
legendItems.forEach(it=>{
  const y=it[0], x=613, w=10, h=5.4;
  const fills={olive:'#b9bf8f',light:'#f3f1e8',red:'#d8262b',black:'#141414'};
  const top = it[2]==='red'?y-2.7:y-h/2;
  if(it[2]==='ba'){ G.push({type:'rect',shape:{x:x,y:y-4.5,width:w,height:9},style:{fill:'#fff',stroke:'#666',lineWidth:0.6}}); G.push(txt('Ba',x+w/2,y,{size:7,color:'#222'})); }
  else {
    G.push({type:'rect',shape:{x:x,y:top,width:w,height:h},style:{fill:fills[it[2]]||'#fff',stroke:'#777',lineWidth:0.5}});
    const k=it[2];
    if(k==='lime'||k==='marlylime'){ G.push({type:'line',shape:{x1:x,y1:top+h/2,x2:x+w,y2:top+h/2},style:{stroke:'#777',lineWidth:0.4}}); G.push({type:'line',shape:{x1:x+w/2,y1:top,x2:x+w/2,y2:top+h/2},style:{stroke:'#777',lineWidth:0.4}}); }
    if(k==='marlylime'||k==='marl'||k==='clay'){ G.push({type:'line',shape:{x1:x+2,y1:top+h-1.3,x2:x+4,y2:top+h-1.3},style:{stroke:'#777',lineWidth:0.4}}); G.push({type:'line',shape:{x1:x+6,y1:top+h-1.3,x2:x+8,y2:top+h-1.3},style:{stroke:'#777',lineWidth:0.4}}); }
    if(k==='clay'){ G.push({type:'line',shape:{x1:x+2,y1:top+1.5,x2:x+8,y2:top+1.5},style:{stroke:'#999',lineWidth:0.4,lineDash:[1,1]}}); }
    if(k==='radio'){ G.push(txt('x x x',x+w/2,y,{size:3.6,color:'#555'})); }
    if(k==='chert'){ G.push({type:'polygon',shape:{points:[[x+3.6,y],[x+6.4,y-1.6],[x+6.4,y+1.6]]},style:{fill:'#111'}}); }
  }
  const lines = it[1].split('\n');
  lines.forEach((t,i)=>G.push(txt(t,626.5,(it[2]==='red'?y:y-(lines.length-1)*2.3)+i*4.8,{size:4.7,color:'#333',align:'left'})));
});

const chart = echarts.init(document.getElementById('c'), null, {renderer:'canvas'});
chart.setOption(option);
</script></body></html>
